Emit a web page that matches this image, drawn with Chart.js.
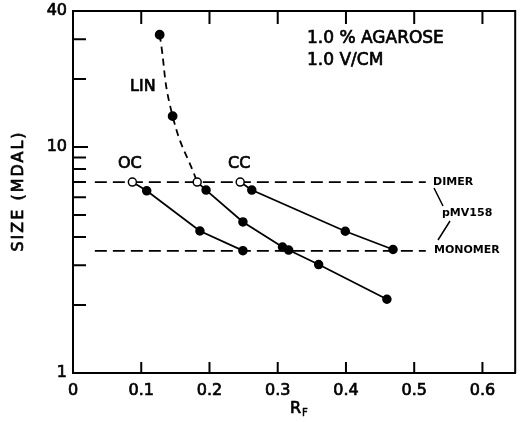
<!DOCTYPE html>
<html>
<head>
<meta charset="utf-8">
<script src="https://cdn.jsdelivr.net/npm/chart.js@4.4.0/dist/chart.umd.min.js"></script>
<style>
  html, body { margin: 0; padding: 0; background: #fff; }
</style>
</head>
<body>
<canvas id="chart" width="521" height="422"></canvas>
<script>
// values: Rf vs size (MDal, log scale)
const ocRf = [0.087, 0.108, 0.186, 0.249];
const ocSize = [7.0, 6.4, 4.25, 3.48];
const linRf = [0.182, 0.195, 0.249, 0.307, 0.316, 0.360, 0.460];
const linSize = [7.0, 6.45, 4.66, 3.61, 3.50, 3.02, 2.12];
const ccRf = [0.245, 0.262, 0.399, 0.469];
const ccSize = [7.0, 6.45, 4.24, 3.52];
const linCurveRf = [0.127, 0.146, 0.182];
const linCurveSize = [31.4, 13.7, 7.0];
const refRf = [0.032, 0.517];
const dimerSize = 7.0;
const monomerSize = 3.47;
const xTicks = [0, 0.1, 0.2, 0.3, 0.4, 0.5, 0.6];
const yTicks = [1, 2, 3, 4, 5, 6, 7, 8, 9, 10, 20, 30, 40];
const yLabels = [1, 10, 40];

const pts = (xs, ys) => xs.map((x, i) => ({ x: x, y: ys[i] }));
const openFirst = n => Array.from({ length: n }, (_, i) => i === 0 ? '#fff' : '#000');

// slightly heavier text, like the hand lettering
function heavyText(ctx, str, x, y, w) {
  ctx.lineWidth = w;
  ctx.strokeText(str, x, y);
  ctx.fillText(str, x, y);
}

const decorations = {
  id: 'decorations',
  afterDraw(chart) {
    const { ctx, chartArea: a, scales: { x, y } } = chart;
    ctx.save();
    ctx.strokeStyle = '#000';
    ctx.fillStyle = '#000';
    ctx.lineWidth = 2;

    // top + right frame
    ctx.beginPath();
    ctx.moveTo(a.left, a.top);
    ctx.lineTo(a.right, a.top);
    ctx.lineTo(a.right, a.bottom);
    ctx.stroke();

    // ticks pointing inward
    ctx.beginPath();
    xTicks.forEach(v => {
      if (v === 0) return;
      const px = x.getPixelForValue(v);
      ctx.moveTo(px, a.bottom); ctx.lineTo(px, a.bottom - 11);
      ctx.moveTo(px, a.top); ctx.lineTo(px, a.top + 13);
    });
    yTicks.forEach(v => {
      if (v === 1 || v === 40) return;
      const py = y.getPixelForValue(v);
      ctx.moveTo(a.left, py); ctx.lineTo(a.left + (v === 10 ? 15 : 13), py);
    });
    ctx.stroke();

    // notes
    ctx.lineJoin = 'round';
    ctx.textBaseline = 'alphabetic';
    ctx.textAlign = 'left';
    ctx.font = '17px "DejaVu Sans"';
    heavyText(ctx, '1.0 % AGAROSE', 307, 43, 0.7);
    heavyText(ctx, '1.0 V/CM', 307, 65, 0.7);
    ctx.font = '16px "DejaVu Sans"';
    heavyText(ctx, 'LIN', 130, 91, 0.7);
    heavyText(ctx, 'OC', 118, 168, 0.7);
    heavyText(ctx, 'CC', 228, 168, 0.7);

    ctx.font = 'bold 11px "DejaVu Sans"';
    ctx.textBaseline = 'middle';
    ctx.fillText('DIMER', 433, 182);
    ctx.fillText('pMV158', 442, 213);
    ctx.fillText('MONOMER', 434, 250);

    ctx.lineWidth = 1.5;
    ctx.beginPath();
    ctx.moveTo(434, 188); ctx.lineTo(443, 206);
    ctx.moveTo(450, 221); ctx.lineTo(438, 240);
    ctx.stroke();

    // axis titles
    ctx.font = '16px "DejaVu Sans"';
    ctx.textAlign = 'center';
    ctx.save();
    ctx.translate(19, 191);
    ctx.rotate(-Math.PI / 2);
    ctx.letterSpacing = '2px';
    heavyText(ctx, 'SIZE (MDAL)', 0, 0, 0.7);
    ctx.restore();

    ctx.textAlign = 'left';
    ctx.textBaseline = 'alphabetic';
    heavyText(ctx, 'R', 290, 413, 0.7);
    ctx.font = '10px "DejaVu Sans"';
    heavyText(ctx, 'F', 302, 416, 0.5);
    ctx.restore();
  }
};

const solid = (data, n) => ({
  data: data,
  showLine: true,
  borderColor: '#000',
  borderWidth: 1.8,
  pointRadius: 4,
  pointBorderWidth: 1.5,
  pointBorderColor: '#000',
  pointBackgroundColor: openFirst(n),
  tension: 0
});

const refLine = size => ({
  data: refRf.map(r => ({ x: r, y: size })),
  showLine: true,
  borderColor: '#000',
  borderWidth: 1.8,
  borderDash: [12, 6],
  pointRadius: 0,
  order: 10
});

const tickFont = { family: 'DejaVu Sans', size: 16 };

new Chart(document.getElementById('chart'), {
  type: 'scatter',
  data: {
    datasets: [
      solid(pts(ocRf, ocSize), ocRf.length),
      solid(pts(linRf, linSize), linRf.length),
      solid(pts(ccRf, ccSize), ccRf.length),
      {
        data: pts(linCurveRf, linCurveSize),
        showLine: true,
        borderColor: '#000',
        borderWidth: 1.8,
        borderDash: [7, 5],
        tension: 0.5,
        pointRadius: [4, 4, 0],
        pointBackgroundColor: '#000',
        pointBorderColor: '#000',
        order: 5
      },
      refLine(dimerSize),
      refLine(monomerSize)
    ]
  },
  options: {
    responsive: false,
    animation: false,
    layout: { padding: { top: 11, right: 4, left: 0, bottom: 0 } },
    plugins: { legend: { display: false }, tooltip: { enabled: false } },
    scales: {
      x: {
        type: 'linear',
        min: 0,
        max: 0.648,
        afterBuildTicks: s => { s.ticks = xTicks.map(v => ({ value: v })); },
        afterFit: s => { s.height = 49; s.paddingLeft = 0; s.paddingRight = 0; },
        grid: { display: false, drawTicks: false },
        border: { display: true, color: '#000', width: 2 },
        ticks: {
          padding: 8,
          color: '#000',
          textStrokeColor: '#000',
          textStrokeWidth: 0.7,
          font: tickFont,
          callback: v => v === 0 ? '0' : v.toFixed(1)
        }
      },
      y: {
        type: 'logarithmic',
        min: 1,
        max: 40,
        afterBuildTicks: s => { s.ticks = yTicks.map(v => ({ value: v })); },
        afterFit: s => { s.width = 73; s.paddingTop = 0; s.paddingBottom = 0; },
        grid: { display: false, drawTicks: false },
        border: { display: true, color: '#000', width: 2 },
        ticks: {
          padding: 6,
          color: '#000',
          textStrokeColor: '#000',
          textStrokeWidth: 0.7,
          font: tickFont,
          autoSkip: false,
          callback: v => yLabels.includes(v) ? String(v) : ''
        }
      }
    }
  },
  plugins: [decorations]
});
</script>
</body>
</html>
